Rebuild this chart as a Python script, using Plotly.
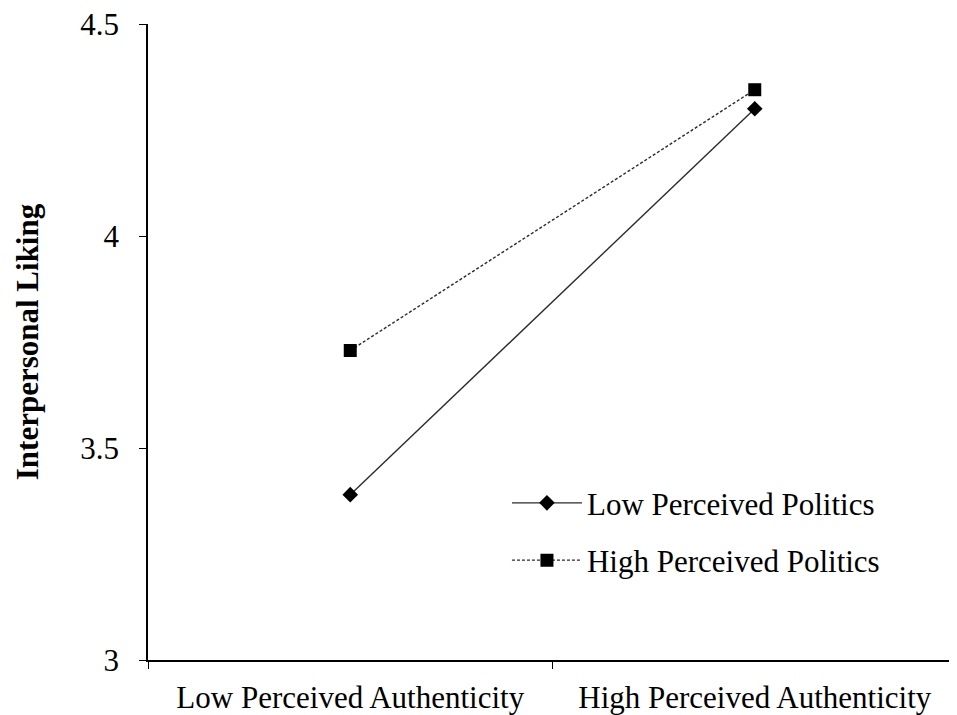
import plotly.graph_objects as go

categories = ["Low Perceived Authenticity", "High Perceived Authenticity"]
low_politics = [3.39, 4.30]
high_politics = [3.73, 4.345]
series_names = ["Low Perceived Politics", "High Perceived Politics"]
y_ticks = [3, 3.5, 4, 4.5]
y_tick_labels = ["3", "3.5", "4", "4.5"]

FONT = "Liberation Serif"
FS = 31

fig = go.Figure()
fig.add_trace(go.Scatter(
    x=categories, y=low_politics, name=series_names[0], mode="lines+markers",
    legendgroup="a",
    line=dict(color="#2b2b2b", width=1.4),
    marker=dict(symbol="diamond", size=12, color="black"),
))
fig.add_trace(go.Scatter(
    x=categories, y=high_politics, name=series_names[1], mode="lines+markers",
    legendgroup="b",
    line=dict(color="#2b2b2b", width=1.4, dash="3px,2px"),
    marker=dict(symbol="square", size=13, color="black"),
))

fig.update_layout(
    width=949, height=707,
    margin=dict(l=140, r=0, t=16, b=55),
    paper_bgcolor="white", plot_bgcolor="white",
    font=dict(family=FONT, color="black", size=FS),
    showlegend=True,
    legend=dict(
        x=0.4437, y=0.289, xanchor="left", yanchor="top",
        bgcolor="rgba(0,0,0,0)", font=dict(family=FONT, size=FS, color="black"),
        tracegroupgap=14, itemwidth=70,
    ),
    xaxis=dict(
        type="category", range=[-0.5, 1.5], automargin=False,
        showline=True, linecolor="black", linewidth=1.5,
        ticks="outside", ticklen=7, tickcolor="black", tickwidth=1.2,
        tickson="boundaries", showgrid=False, zeroline=False,
        tickfont=dict(family=FONT, size=FS), ticklabelstandoff=9,
        ticklabeloverflow="allow",
    ),
    yaxis=dict(
        range=[3, 4.5], tickvals=y_ticks, ticktext=y_tick_labels, automargin=False,
        showline=True, linecolor="black", linewidth=1.5,
        ticks="outside", ticklen=7, tickcolor="black", tickwidth=1.2,
        showgrid=False, zeroline=False,
        tickfont=dict(family=FONT, size=FS), ticklabelstandoff=14,
        ticklabeloverflow="allow",
        title=dict(text="<b>Interpersonal Liking</b>", font=dict(family=FONT, size=FS), standoff=32),
    ),
)

fig.write_html("out.html")
